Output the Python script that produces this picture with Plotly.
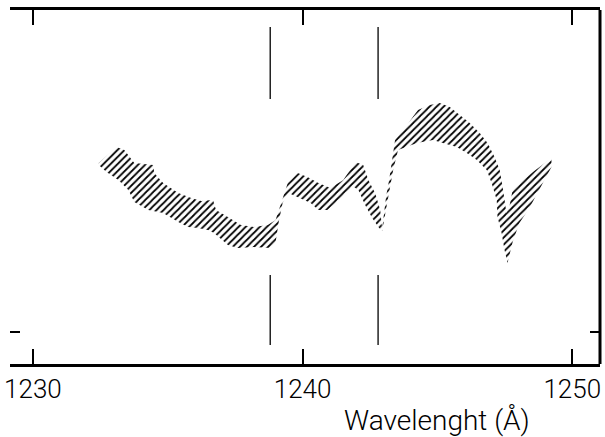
import plotly.graph_objects as go

# Upper boundary of the hatched band (wavelength in Å, relative flux)
upper_wl = [1232.44, 1232.77, 1233.10, 1233.39, 1233.76, 1234.46, 1234.50, 1234.83, 1235.39, 1235.87,
            1236.24, 1236.68, 1236.79, 1237.23, 1237.71, 1238.19, 1238.71, 1239.00, 1239.23, 1239.45,
            1239.82, 1240.18, 1240.59, 1240.77, 1241.03, 1241.51, 1241.96, 1242.25, 1242.44, 1242.69,
            1242.88, 1242.95, 1243.03, 1243.10, 1243.21, 1243.32, 1243.43, 1243.87, 1244.28, 1244.72,
            1245.09, 1245.46, 1245.83, 1246.20, 1246.57, 1246.86, 1247.12, 1247.31, 1247.42, 1247.49,
            1247.56, 1247.68, 1247.79, 1248.30, 1249.23]
upper_flux = [1.69, 1.77, 1.85, 1.82, 1.69, 1.67, 1.59, 1.49, 1.39, 1.34,
              1.31, 1.32, 1.22, 1.15, 1.07, 1.05, 1.07, 1.12, 1.30, 1.49,
              1.59, 1.55, 1.49, 1.47, 1.44, 1.52, 1.70, 1.67, 1.52, 1.39,
              1.22, 1.03, 1.20, 1.36, 1.52, 1.70, 1.92, 2.07, 2.22, 2.27,
              2.29, 2.25, 2.17, 2.09, 1.99, 1.89, 1.75, 1.62, 1.45, 1.32,
              1.19, 1.27, 1.42, 1.55, 1.74]

# Lower boundary of the hatched band
lower_wl = [1232.44, 1232.73, 1233.17, 1233.54, 1233.76, 1234.28, 1234.83, 1235.39, 1235.76, 1236.13,
            1236.49, 1236.72, 1237.23, 1237.60, 1238.19, 1238.82, 1239.00, 1239.11, 1239.26, 1239.48,
            1239.82, 1240.30, 1240.59, 1240.92, 1241.48, 1241.85, 1242.07, 1242.32, 1242.58, 1242.84,
            1242.95, 1243.10, 1243.21, 1243.36, 1243.54, 1244.24, 1244.83, 1245.20, 1245.72, 1246.09,
            1246.46, 1246.83, 1247.01, 1247.20, 1247.23, 1247.38, 1247.49, 1247.60, 1247.79, 1248.04,
            1248.41, 1249.23]
lower_flux = [1.67, 1.60, 1.52, 1.42, 1.30, 1.22, 1.19, 1.10, 1.05, 1.04,
              1.02, 0.99, 0.87, 0.84, 0.85, 0.84, 0.90, 1.09, 1.29, 1.39,
              1.35, 1.29, 1.22, 1.22, 1.35, 1.46, 1.42, 1.27, 1.14, 1.04,
              1.01, 1.20, 1.40, 1.62, 1.82, 1.89, 1.92, 1.89, 1.85, 1.79,
              1.72, 1.62, 1.49, 1.32, 1.15, 0.99, 0.82, 0.69, 0.90, 1.09,
              1.24, 1.65]

# N V doublet rest wavelengths (marker lines)
line_wl = [1238.8, 1242.8]
marker_top = [2.33, 3.05]
marker_bottom = [-0.13, 0.57]

tick_vals = [1230, 1240, 1250]
tick_text = ["1230", "1240", "1250"]
x_range = [1229.15, 1251.03]
y_range = [-0.32, 3.22]

FONT = "Roboto, Liberation Sans, Arial, sans-serif"

fig = go.Figure()

# hatched band polygon
poly_x = upper_wl + lower_wl[::-1]
poly_y = upper_flux + lower_flux[::-1]
fig.add_trace(go.Scatter(
    x=poly_x, y=poly_y, mode="lines", fill="toself",
    line=dict(width=0, color="rgba(0,0,0,0)"),
    fillcolor="rgba(255,255,255,0)",
    fillpattern=dict(shape="/", size=5, solidity=0.35, fgcolor="black", fgopacity=1,
                     bgcolor="rgba(255,255,255,0)"),
    hoverinfo="skip", showlegend=False))

# marker lines
for wl in line_wl:
    for seg in (marker_top, marker_bottom):
        fig.add_trace(go.Scatter(x=[wl, wl], y=seg, mode="lines",
                                 line=dict(color="black", width=1.3),
                                 showlegend=False, hoverinfo="skip"))

fig.update_layout(
    width=605, height=437,
    margin=dict(l=8, r=4, t=10, b=73),
    paper_bgcolor="white", plot_bgcolor="white",
    font=dict(family=FONT, color="black"),
    xaxis=dict(range=x_range, tickvals=tick_vals, ticktext=tick_text,
               ticks="inside", ticklen=15, tickwidth=2, tickcolor="black",
               mirror="ticks", showline=True, linewidth=3, linecolor="black",
               showgrid=False, zeroline=False,
               tickfont=dict(size=26, family=FONT, weight=300)),
    # ticks on both sides, no left/right axis lines (right frame edge added below)
    yaxis=dict(range=y_range, showline=False, mirror="ticks",
               ticks="inside", tickvals=[0], ticklen=10, tickwidth=2, tickcolor="black",
               showticklabels=False, showgrid=False, zeroline=False),
    shapes=[dict(type="line", xref="paper", yref="paper", x0=1, x1=1, y0=0, y1=1,
                 line=dict(color="black", width=3))],
    annotations=[dict(text="Wavelenght (Å)", xref="paper", yref="paper",
                      x=0.885, y=-0.16, xanchor="right", yanchor="middle",
                      showarrow=False, font=dict(size=28, family=FONT, color="black", weight=300))],
)

fig.write_html("out.html")
